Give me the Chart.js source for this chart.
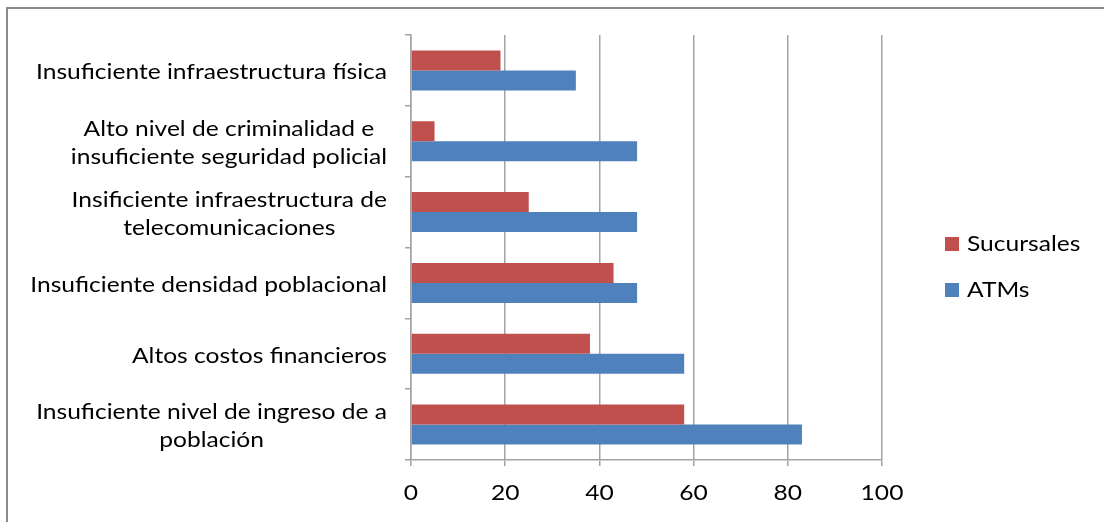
<!DOCTYPE html>
<html lang="es">
<head>
  <meta charset="UTF-8">
  <title>Obstáculos para ATMs y Sucursales</title>
  <script src="https://cdn.jsdelivr.net/npm/chart.js"></script>
  <style>
    body {
      margin: 0;
      background-color: #fff;
      width: 1104px;
      height: 522px;
      overflow: hidden;
      position: relative;
    }
    .marco {
      position: absolute;
      left: 6px;
      top: 7px;
      right: -10px;
      bottom: -10px;
      border-top: 2px solid #8a8a8a;
      border-left: 2px solid #8a8a8a;
    }
    canvas {
      position: absolute;
      left: 0;
      top: 0;
    }
  </style>
</head>
<body>
  <div class="marco"></div>
  <canvas id="grafico" width="1104" height="522"></canvas>

  <script>
    // categorias de arriba hacia abajo (cada linea es un renglon de la etiqueta)
    const categorias = [
      ['Insuficiente infraestructura física'],
      ['Alto nivel de criminalidad e', 'insuficiente seguridad policial'],
      ['Insificiente infraestructura de', 'telecomunicaciones'],
      ['Insuficiente densidad poblacional'],
      ['Altos costos financieros'],
      ['Insuficiente nivel de ingreso de a', 'población']
    ];
    const sucursales = [19, 5, 25, 43, 38, 58];
    const atms = [35, 48, 48, 48, 58, 83];
    const ticksX = [0, 20, 40, 60, 80, 100];

    const fuente = "Lato, 'Liberation Sans', sans-serif";
    const gris = '#a3a3a3';
    const estirar = 1.17; // texto algo mas ancho que alto

    // escribe texto estirado en horizontal, centrado en (x, y)
    function texto(ctx, s, x, y, alinear) {
      const w = ctx.measureText(s).width * estirar;
      let x0 = x - w / 2;
      if (alinear === 'left') x0 = x;
      ctx.save();
      ctx.translate(x0, y);
      ctx.scale(estirar, 1);
      ctx.textAlign = 'left';
      ctx.fillText(s, 0, 0);
      ctx.restore();
    }

    const etiquetas = {
      id: 'etiquetas',
      afterDraw(chart) {
        const ctx = chart.ctx;
        const y = chart.scales.y;
        const x = chart.scales.x;
        ctx.save();
        ctx.font = '21px ' + fuente;
        ctx.fillStyle = '#000';
        ctx.textBaseline = 'middle';

        // etiquetas de categoria: bloque alineado a la derecha, renglones centrados
        categorias.forEach((lineas, i) => {
          const centro = y.getPixelForTick(i);
          const ancho = Math.max(...lineas.map(l => ctx.measureText(l).width)) * estirar;
          const cx = 387 - ancho / 2;
          const alto = 28;
          lineas.forEach((l, j) => {
            texto(ctx, l, cx, centro + 2 + (j - (lineas.length - 1) / 2) * alto);
          });
        });

        // valores del eje x
        ticksX.forEach(v => {
          texto(ctx, String(v), x.getPixelForValue(v), 493);
        });

        // leyenda
        chart.data.datasets.forEach((ds, i) => {
          const ly = 244 + i * 46;
          ctx.fillStyle = ds.backgroundColor;
          ctx.fillRect(945, ly - 7, 14, 14);
          ctx.fillStyle = '#000';
          texto(ctx, ds.label, 967, ly, 'left');
        });
        ctx.restore();
      }
    };

    const grafico = new Chart(document.getElementById('grafico'), {
      type: 'bar',
      data: {
        labels: categorias.map(c => c.join(' ')),
        datasets: [
          {
            label: 'Sucursales',
            data: sucursales,
            backgroundColor: '#C0504D',
            categoryPercentage: 0.565,
            barPercentage: 1
          },
          {
            label: 'ATMs',
            data: atms,
            backgroundColor: '#4F81BD',
            categoryPercentage: 0.565,
            barPercentage: 1
          }
        ]
      },
      options: {
        indexAxis: 'y',
        responsive: false,
        animation: false,
        layout: {
          padding: { top: 35, right: 222, bottom: 0, left: 0 }
        },
        plugins: {
          legend: { display: false },
          tooltip: { enabled: false }
        },
        scales: {
          x: {
            min: 0,
            max: 100,
            afterBuildTicks(scale) {
              scale.ticks = ticksX.map(v => ({ value: v }));
            },
            afterFit(scale) {
              scale.height = 62;
            },
            grid: {
              color: gris,
              lineWidth: 1.5,
              tickLength: 6
            },
            border: { color: gris, width: 1.5 },
            ticks: { display: false }
          },
          y: {
            afterFit(scale) {
              scale.width = 411;
            },
            grid: {
              offset: true,
              drawOnChartArea: false,
              color: gris,
              lineWidth: 1.5,
              tickLength: 6
            },
            border: { color: gris, width: 1.5 },
            ticks: { display: false }
          }
        }
      },
      plugins: [etiquetas]
    });
  </script>
</body>
</html>
